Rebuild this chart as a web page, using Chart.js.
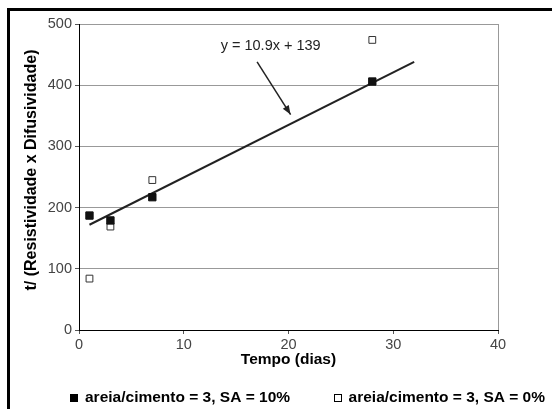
<!DOCTYPE html>
<html>
<head>
<meta charset="utf-8">
<script src="https://cdn.jsdelivr.net/npm/chart.js@4.4.1/dist/chart.umd.min.js"></script>
<style>
  html, body { margin: 0; padding: 0; background: #fff; }
  #wrap { position: relative; width: 552px; height: 409px; }
  canvas { display: block; }
</style>
</head>
<body>
<div id="wrap"><canvas id="c" width="552" height="409"></canvas></div>
<script>
// ---- data ----
const days = [1, 3, 7, 28];
const seriesSA10 = [187, 179, 217, 406];   // filled squares
const seriesSA0  = [84, 169, 245, 474];    // open squares
const trendX = [1, 32];
const trendY = [172, 438];
const xTicks = [0, 10, 20, 30, 40];
const yTicks = [0, 100, 200, 300, 400, 500];
const legendLabels = ['areia/cimento = 3, SA = 10%', 'areia/cimento = 3, SA = 0%'];
const equationText = 'y = 10.9x + 139';
const equationPos = [18.3, 464];
const arrowFrom = [17.0, 438];
const arrowTo = [20.2, 352];
const xTitle = 'Tempo (dias)';
const yTitle = 't/ (Resistividade x Difusividade)';

const FONT = '"Liberation Sans", Arial, sans-serif';

const pts = (xs, ys) => xs.map((x, i) => ({ x: x, y: ys[i] }));

const decor = {
  id: 'decor',
  afterDraw(chart) {
    const ctx = chart.ctx;
    const xs = chart.scales.x, ys = chart.scales.y;
    ctx.save();
    // outer frame
    ctx.strokeStyle = '#000';
    ctx.lineWidth = 3;
    ctx.strokeRect(8.5, 9.5, 560, 420);
    // y axis title
    ctx.save();
    ctx.translate(32, 170);
    ctx.rotate(-Math.PI / 2);
    ctx.font = 'bold 16px ' + FONT;
    ctx.fillStyle = '#000';
    ctx.textAlign = 'center';
    ctx.textBaseline = 'middle';
    ctx.fillText(yTitle, 0, 0);
    ctx.restore();
    // equation
    ctx.fillStyle = '#222';
    ctx.font = '14.5px ' + FONT;
    ctx.textAlign = 'center';
    ctx.textBaseline = 'middle';
    ctx.fillText(equationText, xs.getPixelForValue(equationPos[0]), ys.getPixelForValue(equationPos[1]));
    // arrow
    const x1 = xs.getPixelForValue(arrowFrom[0]), y1 = ys.getPixelForValue(arrowFrom[1]);
    const x2 = xs.getPixelForValue(arrowTo[0]), y2 = ys.getPixelForValue(arrowTo[1]);
    ctx.strokeStyle = '#222';
    ctx.lineWidth = 1.5;
    ctx.beginPath(); ctx.moveTo(x1, y1); ctx.lineTo(x2, y2); ctx.stroke();
    const ang = Math.atan2(y2 - y1, x2 - x1);
    const L = 9, W = 3.5;
    ctx.fillStyle = '#222';
    ctx.beginPath();
    ctx.moveTo(x2, y2);
    ctx.lineTo(x2 - L * Math.cos(ang) + W * Math.sin(ang), y2 - L * Math.sin(ang) - W * Math.cos(ang));
    ctx.lineTo(x2 - L * Math.cos(ang) - W * Math.sin(ang), y2 - L * Math.sin(ang) + W * Math.cos(ang));
    ctx.closePath(); ctx.fill();
    // legend
    const ly = 398;
    ctx.font = 'bold 15.5px ' + FONT;
    ctx.textAlign = 'left';
    ctx.fillStyle = '#000';
    ctx.fillRect(70, ly - 4, 8, 8);
    ctx.fillText(legendLabels[0], 85, ly);
    ctx.strokeStyle = '#000';
    ctx.lineWidth = 1;
    ctx.strokeRect(334.5, ly - 3.5, 7, 7);
    ctx.textAlign = 'right';
    ctx.fillText(legendLabels[1], 545, ly);
    ctx.restore();
  }
};

new Chart(document.getElementById('c'), {
  data: {
    datasets: [
      {
        type: 'line',
        label: 'trend',
        data: pts(trendX, trendY),
        borderColor: '#222',
        borderWidth: 2,
        pointRadius: 0,
        fill: false,
        order: 3
      },
      {
        type: 'scatter',
        label: legendLabels[0],
        data: pts(days, seriesSA10),
        pointStyle: 'rect',
        pointRadius: 5.2,
        backgroundColor: '#111',
        borderColor: '#111',
        borderWidth: 1,
        order: 1
      },
      {
        type: 'scatter',
        label: legendLabels[1],
        data: pts(days, seriesSA0),
        pointStyle: 'rect',
        pointRadius: 4.8,
        backgroundColor: '#fff',
        borderColor: '#333',
        borderWidth: 1,
        order: 2
      }
    ]
  },
  options: {
    responsive: false,
    animation: false,
    devicePixelRatio: 1,
    layout: { padding: { left: 0, top: 24, right: 54, bottom: 0 } },
    plugins: { legend: { display: false }, tooltip: { enabled: false } },
    scales: {
      x: {
        type: 'linear',
        min: 0, max: 40,
        afterBuildTicks: (s) => { s.ticks = xTicks.map(v => ({ value: v })); },
        afterFit: (s) => { s.height = 79; },
        border: { display: true, color: '#000', width: 1 },
        grid: {
          drawOnChartArea: true,
          color: (c) => (c.tick && c.tick.value === 40) ? '#999' : 'rgba(0,0,0,0)',
          tickColor: '#555',
          tickLength: 4,
          lineWidth: 1
        },
        ticks: { color: '#444', font: { family: FONT, size: 14.5 }, padding: 2, maxRotation: 0 },
        title: { display: true, text: xTitle, color: '#000', font: { family: FONT, size: 15.5, weight: 'bold' }, padding: { top: 0, bottom: 40 } }
      },
      y: {
        type: 'linear',
        min: 0, max: 500,
        afterBuildTicks: (s) => { s.ticks = yTicks.map(v => ({ value: v })); },
        afterFit: (s) => { s.width = 79; },
        border: { display: true, color: '#000', width: 1 },
        grid: {
          color: (c) => (c.tick && c.tick.value === 0) ? 'rgba(0,0,0,0)' : '#999',
          tickColor: '#555',
          tickLength: 4,
          lineWidth: 1
        },
        ticks: { color: '#444', font: { family: FONT, size: 14.5 }, padding: 3 },
        title: { display: false }
      }
    }
  },
  plugins: [decor]
});
</script>
</body>
</html>
